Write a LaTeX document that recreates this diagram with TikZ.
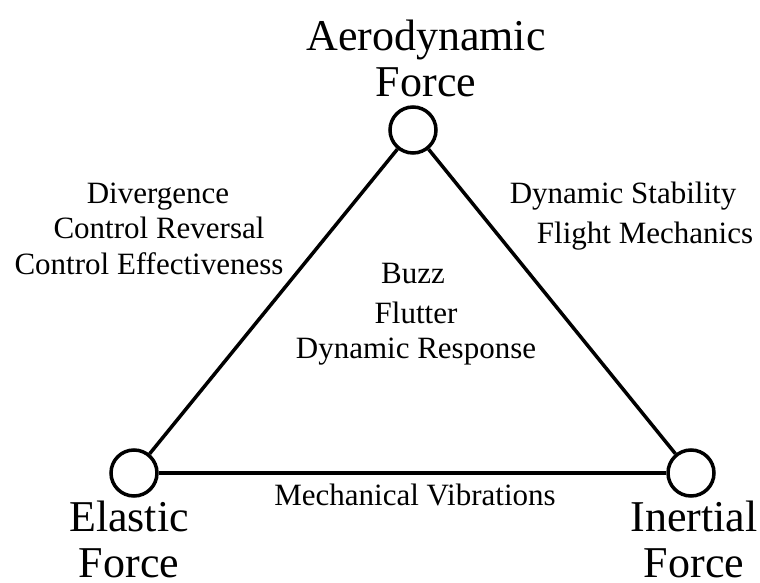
\documentclass[tikz,border=0pt]{standalone}
\usepackage{fontspec}
\setmainfont{Liberation Serif}

\tikzset{
    force/.style={draw, circle, line width=3.5pt, minimum size=46pt, inner sep=0pt},
    bigtext/.style={font=\fontsize{44}{46}\selectfont, align=center, inner sep=0pt, anchor=base},
    smalltext/.style={font=\fontsize{31}{36}\selectfont, anchor=base, inner sep=0pt}
}

\begin{document}
\begin{tikzpicture}[x=1pt,y=-1pt]
    \useasboundingbox (0,0) rectangle (760,583);

    % the three forces
    \node [force] (aero) at (413,130) {};
    \node [force] (elas) at (134,473) {};
    \node [force] (iner) at (691,473) {};

    \draw [line width=3.5pt] (aero) -- (elas);
    \draw [line width=3.5pt] (aero) -- (iner);
    \draw [line width=3.5pt] (elas) -- (iner);

    % force names (base = last line)
    \node [bigtext] (aerol) at (426,97) {Aerodynamic\\Force};
    \node [bigtext] (elasl) at (129,577) {Elastic\\Force};
    \node [bigtext] (inerl) at (694,577) {Inertial\\Force};

    % aero + elastic
    \node [smalltext] (div) at (158,203) {Divergence};
    \node [smalltext] (rev) at (159,238) {Control Reversal};
    \node [smalltext] (eff) at (149,274) {Control Effectiveness};

    % aero + inertial
    \node [smalltext] (stab) at (623,203) {Dynamic Stability};
    \node [smalltext] (mech) at (645,243) {Flight Mechanics};

    % all three
    \node [smalltext] (buzz) at (413,283) {Buzz};
    \node [smalltext] (flut) at (416,323) {Flutter};
    \node [smalltext] (resp) at (416,358) {Dynamic Response};

    % elastic + inertial
    \node [smalltext] (vib) at (415,505) {Mechanical Vibrations};

\end{tikzpicture}
\end{document}
